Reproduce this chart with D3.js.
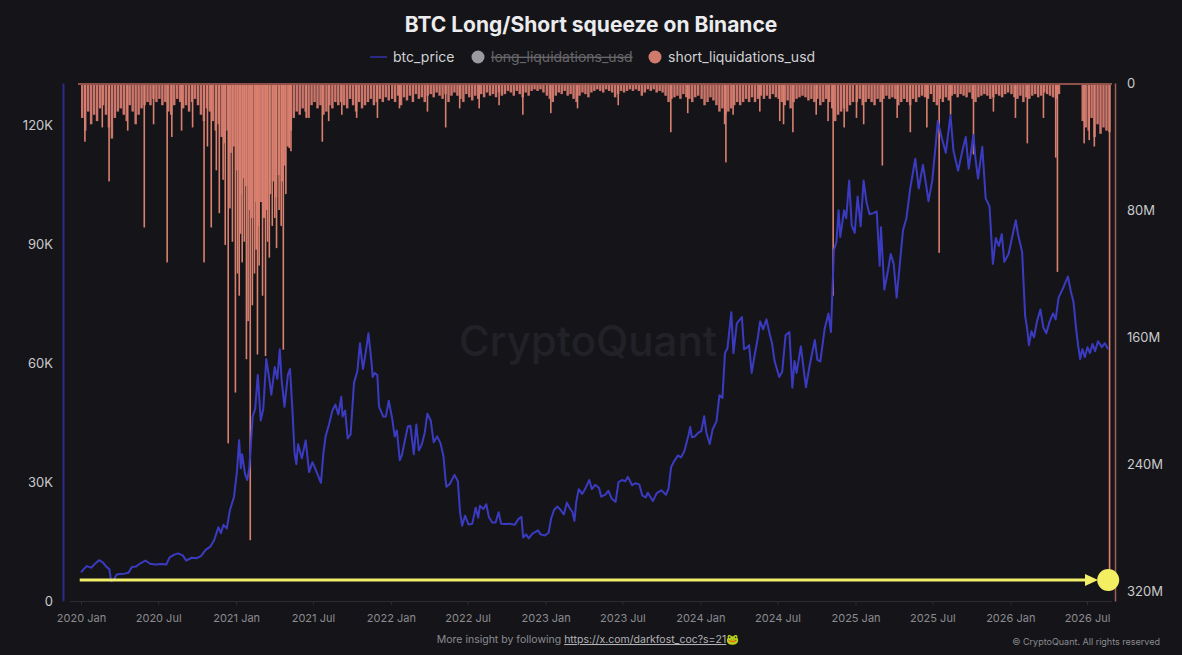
<!DOCTYPE html>
<meta charset="utf-8">
<script src="https://cdn.jsdelivr.net/npm/d3@7"></script>
<style>
  html, body { margin: 0; background: #151519; }
  svg text { font-family: Inter, "Noto Sans", "DejaVu Sans", sans-serif; }
</style>
<div id="chart"></div>
<script>
// btc price, thousands of USD
const btcPrice = [
  ["2020-01-01",7.2],["2020-01-08",8.1],["2020-01-15",8.8],["2020-01-25",8.4],["2020-02-05",9.6],["2020-02-13",10.3],["2020-02-22",9.7],["2020-03-01",8.6],["2020-03-08",8.0],["2020-03-12",5.0],["2020-03-18",5.3],["2020-03-25",6.7],["2020-04-02",6.8],["2020-04-12",6.9],["2020-04-22",7.1],["2020-04-30",8.6],["2020-05-10",8.7],["2020-05-20",9.5],["2020-06-01",10.2],["2020-06-12",9.4],["2020-06-25",9.2],["2020-07-08",9.3],["2020-07-20",9.2],["2020-07-28",11.0],["2020-08-08",11.7],["2020-08-17",12.0],["2020-08-28",11.5],["2020-09-05",10.2],["2020-09-18",10.9],["2020-09-30",10.8],["2020-10-10",11.3],["2020-10-21",12.9],["2020-11-01",13.7],["2020-11-10",15.3],["2020-11-20",18.6],["2020-11-26",17.1],["2020-12-02",19.2],["2020-12-10",18.3],["2020-12-17",22.8],["2020-12-27",26.3],
  ["2021-01-03",32.8],["2021-01-08",40.5],["2021-01-12",33.5],["2021-01-15",37.0],["2021-01-22",32.0],["2021-01-27",30.5],["2021-02-01",33.5],["2021-02-09",46.5],["2021-02-15",48.5],["2021-02-21",57.0],["2021-02-28",45.5],["2021-03-06",48.5],["2021-03-13",61.0],["2021-03-18",57.5],["2021-03-25",52.0],["2021-04-02",59.0],["2021-04-08",56.0],["2021-04-14",63.5],["2021-04-18",56.0],["2021-04-25",49.0],["2021-05-03",57.0],["2021-05-08",58.5],["2021-05-13",49.5],["2021-05-19",37.0],["2021-05-23",34.5],["2021-05-27",39.5],["2021-06-05",36.0],["2021-06-14",40.5],["2021-06-22",32.5],["2021-06-30",35.0],["2021-07-08",33.0],["2021-07-20",29.8],["2021-07-26",37.5],["2021-07-31",41.5],["2021-08-08",44.5],["2021-08-16",48.0],["2021-08-23",49.5],["2021-08-30",47.0],["2021-09-06",51.5],["2021-09-09",46.5],["2021-09-15",48.0],["2021-09-21",41.0],["2021-09-28",42.0],["2021-10-06",55.0],["2021-10-14",58.0],["2021-10-20",65.0],["2021-10-27",58.5],["2021-11-01",61.5],["2021-11-09",67.5],["2021-11-16",60.5],["2021-11-19",56.5],["2021-11-24",57.5],["2021-11-30",57.0],["2021-12-04",49.0],["2021-12-10",47.5],["2021-12-14",46.5],["2021-12-20",46.5],["2021-12-27",50.5],
  ["2022-01-04",46.0],["2022-01-10",41.5],["2022-01-15",43.0],["2022-01-22",35.5],["2022-01-27",36.8],["2022-02-05",41.5],["2022-02-10",44.0],["2022-02-16",44.2],["2022-02-24",37.0],["2022-03-02",44.5],["2022-03-08",38.0],["2022-03-15",39.5],["2022-03-22",42.5],["2022-03-28",47.2],["2022-04-05",45.5],["2022-04-12",40.0],["2022-04-20",41.5],["2022-04-28",39.8],["2022-05-05",36.5],["2022-05-10",30.5],["2022-05-12",28.8],["2022-05-20",29.5],["2022-05-31",31.8],["2022-06-08",30.2],["2022-06-13",22.5],["2022-06-18",19.0],["2022-06-25",21.5],["2022-07-03",19.3],["2022-07-12",19.5],["2022-07-20",23.5],["2022-07-26",21.0],["2022-07-30",24.0],["2022-08-07",23.2],["2022-08-14",24.4],["2022-08-20",21.2],["2022-08-28",19.8],["2022-09-05",19.8],["2022-09-12",22.4],["2022-09-18",19.5],["2022-09-28",19.4],["2022-10-08",19.5],["2022-10-20",19.2],["2022-10-29",20.7],["2022-11-05",21.2],["2022-11-09",16.0],["2022-11-16",16.8],["2022-11-22",15.8],["2022-12-01",17.0],["2022-12-14",17.8],["2022-12-20",16.8],["2022-12-30",16.5],
  ["2023-01-08",17.2],["2023-01-14",20.8],["2023-01-21",23.0],["2023-01-29",23.8],["2023-02-05",23.0],["2023-02-13",21.8],["2023-02-20",24.8],["2023-02-28",23.2],["2023-03-05",22.5],["2023-03-10",20.2],["2023-03-14",24.8],["2023-03-20",28.2],["2023-03-28",27.0],["2023-04-04",28.2],["2023-04-14",30.5],["2023-04-20",28.2],["2023-04-28",29.3],["2023-05-07",28.5],["2023-05-12",26.3],["2023-05-22",26.8],["2023-05-29",27.8],["2023-06-06",25.8],["2023-06-15",25.0],["2023-06-22",30.0],["2023-06-30",30.5],["2023-07-08",30.2],["2023-07-14",31.3],["2023-07-24",29.2],["2023-08-01",29.7],["2023-08-10",29.4],["2023-08-17",26.6],["2023-08-25",26.1],["2023-08-30",27.3],["2023-09-11",25.2],["2023-09-20",27.2],["2023-10-01",27.9],["2023-10-12",26.8],["2023-10-18",28.4],["2023-10-24",33.8],["2023-11-01",35.4],["2023-11-09",36.7],["2023-11-16",36.2],["2023-11-24",37.7],["2023-12-04",41.8],["2023-12-08",43.9],["2023-12-12",41.3],["2023-12-18",41.4],["2023-12-28",42.5],
  ["2024-01-03",42.8],["2024-01-10",46.6],["2024-01-15",42.5],["2024-01-23",39.6],["2024-01-30",43.3],["2024-02-08",45.3],["2024-02-15",51.9],["2024-02-22",51.2],["2024-02-28",62.5],["2024-03-05",63.8],["2024-03-14",72.8],["2024-03-19",62.5],["2024-03-27",70.0],["2024-04-08",71.6],["2024-04-13",63.5],["2024-04-19",63.8],["2024-04-25",64.5],["2024-05-01",57.5],["2024-05-08",62.0],["2024-05-15",66.0],["2024-05-21",70.5],["2024-05-28",68.5],["2024-06-05",71.0],["2024-06-12",67.5],["2024-06-18",65.0],["2024-06-24",60.5],["2024-07-05",56.5],["2024-07-12",57.8],["2024-07-20",67.0],["2024-07-29",67.8],["2024-08-05",53.8],["2024-08-10",60.5],["2024-08-15",57.5],["2024-08-25",64.2],["2024-09-06",53.9],["2024-09-15",59.5],["2024-09-27",65.8],["2024-10-03",60.8],["2024-10-10",60.4],["2024-10-20",68.5],["2024-10-29",72.5],["2024-11-04",67.8],["2024-11-11",88.5],["2024-11-17",90.5],["2024-11-22",98.5],["2024-11-26",91.8],["2024-12-05",98.5],["2024-12-10",96.5],["2024-12-17",106.0],["2024-12-23",94.7],["2024-12-30",92.8],
  ["2025-01-06",102.0],["2025-01-13",94.5],["2025-01-20",106.0],["2025-01-27",100.5],["2025-02-03",97.5],["2025-02-12",97.8],["2025-02-20",98.2],["2025-02-27",84.5],["2025-03-02",94.2],["2025-03-10",78.5],["2025-03-18",83.0],["2025-03-25",87.5],["2025-04-01",85.0],["2025-04-08",76.5],["2025-04-15",84.5],["2025-04-23",93.5],["2025-05-01",96.5],["2025-05-10",104.0],["2025-05-22",111.5],["2025-05-30",104.0],["2025-06-09",110.0],["2025-06-17",104.5],["2025-06-22",100.8],["2025-07-01",106.0],["2025-07-10",116.0],["2025-07-14",121.0],["2025-07-24",116.5],["2025-08-02",113.0],["2025-08-13",122.5],["2025-08-20",113.5],["2025-08-31",108.5],["2025-09-10",113.5],["2025-09-18",117.0],["2025-09-25",109.0],["2025-10-06",117.5],["2025-10-11",111.5],["2025-10-17",106.5],["2025-10-27",114.5],["2025-11-04",101.5],["2025-11-13",99.5],["2025-11-21",85.0],["2025-11-28",91.5],["2025-12-05",89.5],["2025-12-12",92.5],["2025-12-18",85.5],["2025-12-28",87.5],
  ["2026-01-05",91.5],["2026-01-14",96.0],["2026-01-20",92.0],["2026-01-29",88.0],["2026-02-05",72.0],["2026-02-10",68.5],["2026-02-14",64.5],["2026-02-20",68.0],["2026-02-26",66.5],["2026-03-05",70.5],["2026-03-13",73.5],["2026-03-20",69.0],["2026-03-27",67.5],["2026-04-04",70.5],["2026-04-12",72.5],["2026-04-18",71.0],["2026-04-25",76.5],["2026-05-04",78.5],["2026-05-12",80.5],["2026-05-17",81.8],["2026-05-24",78.0],["2026-05-30",75.5],["2026-06-06",68.0],["2026-06-10",64.5],["2026-06-15",61.0],["2026-06-20",63.5],["2026-06-26",61.5],["2026-07-02",64.0],["2026-07-08",62.5],["2026-07-14",64.8],["2026-07-20",63.0],["2026-07-27",65.5],["2026-08-05",64.0],["2026-08-12",65.0],["2026-08-20",63.5]
];

// short liquidations, weekly typical level (million USD), one array per year starting Jan 1
const shortBand2020 = [22,30,18,26,20,24,16,14,20, 28,35,22,18, 16,20,24,14, 18,26,20,16,14, 12,14,10,12, 10,14,12,18, 20,14,10,12,16, 14,18,12,10, 14,20,24,16,18, 24,30,26,34, 38,30,44,40];
const shortBand2021 = [55,70,60,65, 80,85,75,90, 75,85,80,70,62, 72,58,62,52, 40,30,22,18,20, 16,18,22,14, 12,16,14,20, 18,14,16,12,14, 12,14,16,10, 14,18,12,16,14, 12,10,14,12, 10,12,9,11];
const shortBand2022 = [10,12,8,14, 9,11,8,12, 7,10,9,12,8, 7,9,6,8, 10,7,12,8,6, 8,10,12,7, 9,11,8,10, 7,9,6,8,7, 9,6,8,7, 5,6,8,5,7, 9,6,8,5, 4,5,4,6];
const shortBand2023 = [8,10,12,8, 6,7,5,8, 7,10,12,8,6, 7,9,6,5, 4,5,6,4,5, 6,9,7,5, 6,5,4,5, 4,5,8,6,4, 5,4,6,5, 6,8,12,10,9, 8,10,7,9, 10,12,9,8];
const shortBand2024 = [10,14,12,9, 11,14,18,16, 20,18,16,14,12, 14,12,10,12, 9,12,10,8,10, 8,10,7,9, 10,12,14,11, 16,12,10,9,8, 9,11,10,12, 10,14,12,10,12, 16,24,20,18, 16,18,14,12];
const shortBand2025 = [12,10,14,12, 10,12,14,10, 12,10,8,10,9, 10,14,12,10, 12,14,10,12,9, 8,9,10,7, 12,14,10,12, 9,11,8,7,9, 7,8,9,6, 10,12,9,8,7, 8,10,9,7, 8,9,7,6];
const shortBand2026 = [7,9,10,8, 12,9,10,8, 7,9,8,6,7, 8,9,10,7, 0,0,0,0,0, 0,0,24,28, 30,22,34,26, 32,28,30,31];

// single-day short liquidation spikes (million USD)
const shortSpikes = [
  ["2020-01-10",37],["2020-02-20",28],["2020-03-07",62],["2020-04-20",30],["2020-05-29",91],["2020-06-20",26],["2020-07-22",113],["2020-08-02",34],["2020-08-25",30],["2020-09-20",28],["2020-10-17",113],["2020-10-25",40],["2020-11-03",91],["2020-11-15",55],["2020-11-22",82],["2020-12-01",61],["2020-12-06",102],["2020-12-13",227],["2020-12-17",79],["2020-12-23",100],["2020-12-30",195],
  ["2021-01-04",120],["2021-01-08",134],["2021-01-11",95],["2021-01-15",113],["2021-01-20",100],["2021-01-25",174],["2021-01-29",150],["2021-02-03",288],["2021-02-08",140],["2021-02-13",120],["2021-02-17",105],["2021-02-20",171],["2021-02-24",115],["2021-03-04",134],["2021-03-11",172],["2021-03-16",100],["2021-03-20",110],["2021-03-27",90],["2021-04-02",85],["2021-04-06",104],["2021-04-12",80],["2021-04-17",90],["2021-04-22",168],["2021-04-28",70],["2021-05-06",41],["2021-05-10",43],["2021-06-15",22],["2021-07-23",37],["2021-08-07",24],["2021-09-07",20],["2021-10-12",22],["2021-11-30",22],
  ["2022-01-21",16],["2022-03-28",18],["2022-05-10",28],["2022-06-12",16],["2022-07-28",16],["2022-09-13",14],["2022-11-08",20],
  ["2023-01-13",19],["2023-03-17",16],["2023-06-21",14],["2023-10-23",31],["2023-12-02",19],
  ["2024-02-27",26],["2024-03-01",50],["2024-03-18",20],["2024-05-20",18],["2024-07-06",24],["2024-07-15",26],["2024-08-06",31],["2024-09-30",20],["2024-10-28",24],["2024-11-09",134],["2024-12-05",28],
  ["2025-01-03",22],["2025-01-20",26],["2025-03-05",52],["2025-04-09",22],["2025-05-10",31],["2025-06-18",28],["2025-07-17",107],["2025-08-13",20],["2025-10-06",45],["2025-11-22",18],
  ["2026-01-13",22],["2026-02-10",38],["2026-03-20",22],["2026-04-18",47],["2026-04-22",119],["2026-06-24",38],["2026-07-06",36],["2026-07-18",40],["2026-08-23",320]
];

const priceTicks = [0, 30000, 60000, 90000, 120000];
const liqTicks = [0, 80, 160, 240, 320];

// annotation the author drew on the chart (yellow arrow + dot)
const arrowFrom = "2019-12-29", arrowTo = "2026-07-27", dotDate = "2026-08-20", arrowLevel = 5300;

const W = 1182, H = 655;
const plot = {left: 70, right: 1112, top: 83, bottom: 601};
const parse = d3.utcParse("%Y-%m-%d");

const svg = d3.select("#chart").append("svg")
  .attr("width", W).attr("height", H)
  .style("background", "#151519");

const x = d3.scaleUtc()
  .domain([parse("2020-01-01"), parse("2026-07-01")])
  .range([81, 1087]);
const yPrice = d3.scaleLinear().domain([0, 130600]).range([plot.bottom, plot.top]);
const yLiq = d3.scaleLinear().domain([0, 326.3]).range([plot.top, plot.bottom]);

// watermark
svg.append("text")
  .attr("x", 588).attr("y", 356)
  .attr("text-anchor", "middle")
  .style("font-size", "42px").style("font-weight", 500)
  .attr("fill", "#212127")
  .text("CryptoQuant");

svg.append("defs").append("clipPath").attr("id", "clip")
  .append("rect").attr("x", plot.left).attr("y", plot.top)
  .attr("width", plot.right - plot.left).attr("height", plot.bottom - plot.top);

const marks = svg.append("g").attr("clip-path", "url(#clip)");

// weekly band of short liquidations
const bands = [shortBand2020, shortBand2021, shortBand2022, shortBand2023, shortBand2024, shortBand2025, shortBand2026];
const weekly = [];
bands.forEach(function(arr, k) {
  arr.forEach(function(v, i) {
    weekly.push({d: new Date(Date.UTC(2020 + k, 0, 1 + 7 * i)), v: v});
  });
});
marks.append("g").selectAll("rect").data(weekly).join("rect")
  .attr("x", d => x(d.d))
  .attr("width", d => x(d3.utcDay.offset(d.d, 7)) - x(d.d) - 0.5)
  .attr("y", yLiq(0))
  .attr("height", d => yLiq(d.v) - yLiq(0))
  .attr("fill", "#cc766b");

marks.append("g").selectAll("rect").data(shortSpikes).join("rect")
  .attr("x", d => x(parse(d[0])) - 0.7)
  .attr("width", 1.6)
  .attr("y", yLiq(0))
  .attr("height", d => yLiq(d[1]) - yLiq(0))
  .attr("fill", "#d9806f");

// price line
marks.append("path")
  .datum(btcPrice)
  .attr("fill", "none")
  .attr("stroke", "#3b3bc2")
  .attr("stroke-width", 2)
  .attr("stroke-linejoin", "round")
  .attr("d", d3.line()
    .x(d => x(parse(d[0])))
    .y(d => yPrice(d[1] * 1000)));

// top edge of the liquidation axis
svg.append("line").attr("x1", 78).attr("x2", plot.right)
  .attr("y1", plot.top + 1).attr("y2", plot.top + 1)
  .attr("stroke", "#8e5049").attr("stroke-width", 2);

// x axis
const xAxis = svg.append("g")
  .attr("transform", "translate(0," + plot.bottom + ")")
  .call(d3.axisBottom(x)
    .ticks(d3.utcMonth.every(6))
    .tickFormat(d3.utcFormat("%Y %b"))
    .tickSize(4).tickPadding(9));
xAxis.select(".domain").attr("stroke", "#2c2c32").attr("d", "M" + plot.left + ",0.5H" + plot.right);
xAxis.selectAll(".tick line").attr("stroke", "#2c2c32");
xAxis.selectAll("text").attr("fill", "#8b8b90").style("font-size", "11px");

// left axis (price)
const yAxisL = svg.append("g")
  .attr("transform", "translate(63,0)")
  .call(d3.axisLeft(yPrice)
    .tickValues(priceTicks)
    .tickFormat(d => d === 0 ? "0" : (d / 1000) + "K")
    .tickSize(0).tickPadding(10));
yAxisL.select(".domain").attr("stroke", "#2b2b8c").attr("stroke-width", 2);
yAxisL.selectAll("text").attr("fill", "#c9c9cc").style("font-size", "13px");

// right axis (liquidations)
const yAxisR = svg.append("g")
  .attr("transform", "translate(1115,0)")
  .call(d3.axisRight(yLiq)
    .tickValues(liqTicks)
    .tickFormat(d => d === 0 ? "0" : d + "M")
    .tickSize(0).tickPadding(12));
yAxisR.select(".domain").attr("stroke", "#a0605a").attr("stroke-width", 1.5);
yAxisR.selectAll("text").attr("fill", "#c9c9cc").style("font-size", "13px");

// yellow annotation
const ay = yPrice(arrowLevel);
svg.append("line")
  .attr("x1", x(parse(arrowFrom))).attr("x2", x(parse(arrowTo)) - 10)
  .attr("y1", ay).attr("y2", ay)
  .attr("stroke", "#f2ee6a").attr("stroke-width", 3);
const tip = x(parse(arrowTo));
svg.append("path")
  .attr("d", "M" + tip + "," + ay + "L" + (tip - 13) + "," + (ay - 6) + "L" + (tip - 13) + "," + (ay + 6) + "Z")
  .attr("fill", "#f2ee6a");
svg.append("circle")
  .attr("cx", x(parse(dotDate))).attr("cy", ay).attr("r", 11)
  .attr("fill", "#f4ee62");

// title
svg.append("text")
  .attr("x", 591).attr("y", 32)
  .attr("text-anchor", "middle")
  .style("font-size", "21px").style("font-weight", 700)
  .attr("fill", "#ececee")
  .text("BTC Long/Short squeeze on Binance");

// legend
const lg = svg.append("g").style("font-size", "14px");
lg.append("line").attr("x1", 370).attr("x2", 387).attr("y1", 57).attr("y2", 57)
  .attr("stroke", "#2a2a80").attr("stroke-width", 2);
lg.append("text").attr("x", 393).attr("y", 62).attr("fill", "#d2d2d5").text("btc_price");
lg.append("circle").attr("cx", 478).attr("cy", 57).attr("r", 6.5).attr("fill", "#9a9aa0");
lg.append("text").attr("x", 491).attr("y", 62).attr("fill", "#66666b")
  .style("text-decoration", "line-through").text("long_liquidations_usd");
lg.append("circle").attr("cx", 655).attr("cy", 57).attr("r", 6.5).attr("fill", "#d07a6e");
lg.append("text").attr("x", 668).attr("y", 62).attr("fill", "#d2d2d5").text("short_liquidations_usd");

// footer
const ft = svg.append("text")
  .attr("x", 588).attr("y", 643)
  .attr("text-anchor", "middle")
  .style("font-size", "10.5px")
  .attr("fill", "#8b8b90");
ft.append("tspan").text("More insight by following ");
ft.append("tspan").attr("fill", "#b2b2b6").style("text-decoration", "underline")
  .text("https://x.com/darkfost_coc?s=21");
ft.append("tspan").text("🐸");

svg.append("text")
  .attr("x", 1160).attr("y", 645)
  .attr("text-anchor", "end")
  .style("font-size", "9px")
  .attr("fill", "#8b8b90")
  .text("© CryptoQuant. All rights reserved");
</script>
